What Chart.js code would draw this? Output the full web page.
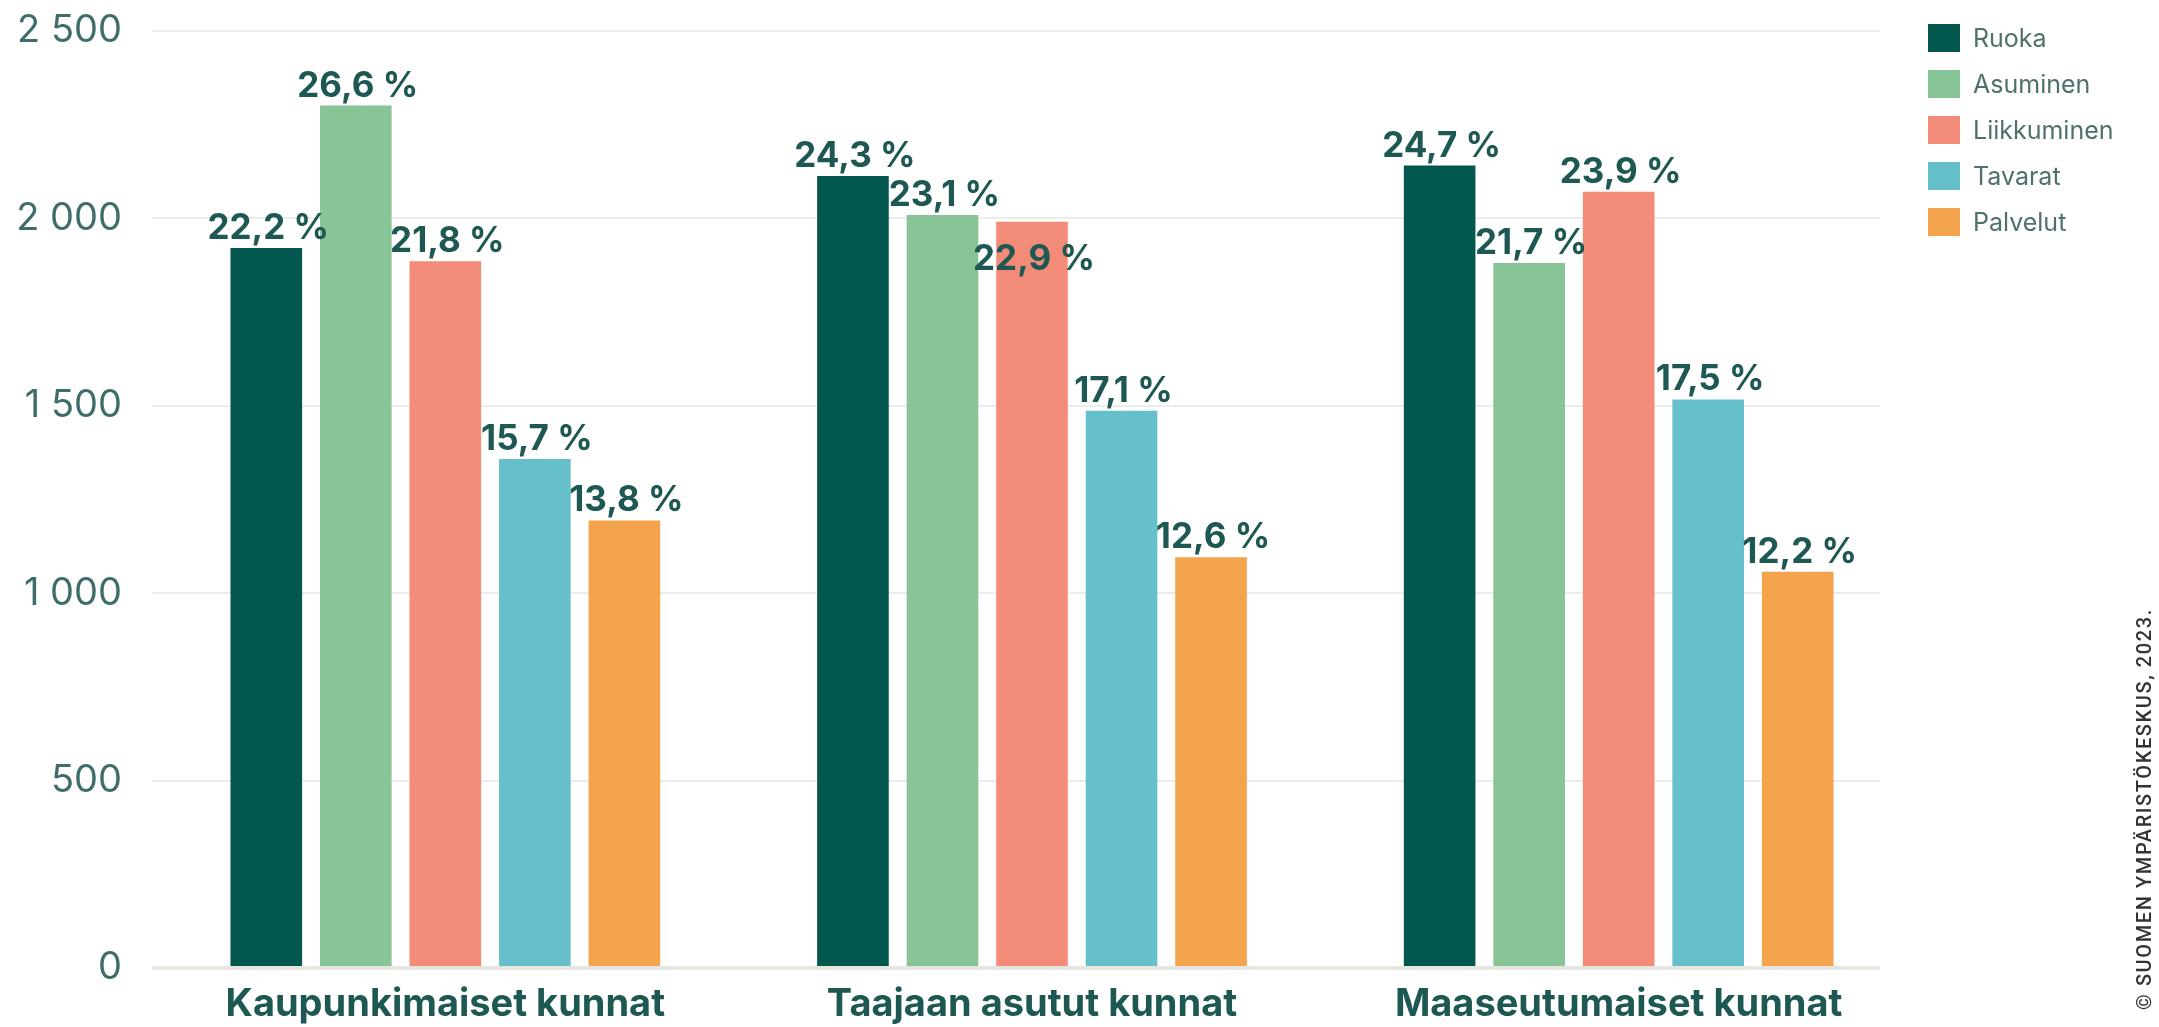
<!DOCTYPE html>
<html lang="fi">
<head>
<meta charset="utf-8">
<title>Hiilijalanjälki kuntatyypeittäin</title>
<script src="https://cdn.jsdelivr.net/npm/chart.js@4.4.0/dist/chart.umd.min.js"></script>
<style>
    html, body { margin: 0; padding: 0; background: #ffffff; }
    #wrap { position: relative; width: 2159px; height: 1027px; }
</style>
</head>
<body>
<div id="wrap"><canvas id="kulutus"></canvas></div>
<script>
// Kuntatyypit (x-akseli)
const categories = ['Kaupunkimaiset kunnat', 'Taajaan asutut kunnat', 'Maaseutumaiset kunnat'];

// Sarjat: arvot luettu kuvasta
const ruoka = [1921, 2113, 2141];
const asuminen = [2301, 2009, 1881];
const liikkuminen = [1886, 1991, 2071];
const tavarat = [1358, 1487, 1517];
const palvelut = [1194, 1096, 1057];

// Prosenttiosuudet pylväiden päällä
const ruokaPct = ['22,2 %', '24,3 %', '24,7 %'];
const asuminenPct = ['26,6 %', '23,1 %', '21,7 %'];
const liikkuminenPct = ['21,8 %', '22,9 %', '23,9 %'];
const tavaratPct = ['15,7 %', '17,1 %', '17,5 %'];
const palvelutPct = ['13,8 %', '12,6 %', '12,2 %'];

// Y-akselin tikit
const yTicks = [0, 500, 1000, 1500, 2000, 2500];
const yTickLabels = ['0', '500', '1 000', '1 500', '2 000', '2 500'];

const copyrightText = '© SUOMEN YMPÄRISTÖKESKUS, 2023.';

const textColor = '#1d5852';
const fontFamily = 'Inter, "Open Sans", sans-serif';

// Apuviivat loppuvat hieman ennen kaavioalueen oikeaa reunaa
const gridClipPlugin = {
    id: 'gridClip',
    beforeDraw(chart) {
        const ctx = chart.ctx;
        ctx.save();
        ctx.beginPath();
        ctx.rect(0, 0, chart.chartArea.right - 32, chart.height);
        ctx.clip();
    },
    beforeDatasetsDraw(chart) {
        chart.ctx.restore();
    }
};

// Prosenttitekstit pylväiden yläpuolelle (väistää päällekkäisyydet)
const pctLabelPlugin = {
    id: 'pctLabels',
    afterDatasetsDraw(chart) {
        const ctx = chart.ctx;
        ctx.save();
        ctx.font = 'bold 35px ' + fontFamily;
        ctx.fillStyle = textColor;
        ctx.textAlign = 'center';
        const placed = categories.map(() => []);
        chart.data.datasets.forEach((ds, di) => {
            const meta = chart.getDatasetMeta(di);
            meta.data.forEach((bar, i) => {
                const text = ds.pct[i];
                const w = ctx.measureText(text).width;
                const h = 28;
                let bottom = bar.y - 9;
                let rect = { l: bar.x - w / 2, r: bar.x + w / 2, t: bottom - h, b: bottom };
                const hit = placed[i].some(p => rect.l < p.r && rect.r > p.l && rect.t < p.b && rect.b > p.t);
                if (hit) {
                    // Siirretään teksti pylvään sisälle
                    bottom = bar.y + 20 + h;
                    rect = { l: rect.l, r: rect.r, t: bottom - h, b: bottom };
                }
                placed[i].push(rect);
                ctx.textBaseline = 'alphabetic';
                ctx.fillText(text, bar.x + 2, bottom);
            });
        });
        ctx.restore();
    }
};

// Selite oikeaan yläkulmaan ja tekijänoikeusteksti pystyyn
const legendPlugin = {
    id: 'sideLegend',
    afterDraw(chart) {
        const ctx = chart.ctx;
        ctx.save();
        ctx.font = '25px ' + fontFamily;
        ctx.textBaseline = 'middle';
        ctx.textAlign = 'left';
        chart.data.datasets.forEach((ds, i) => {
            const y = 38 + i * 46;
            ctx.fillStyle = ds.backgroundColor;
            ctx.fillRect(1928, y - 14, 32, 28);
            ctx.fillStyle = '#4f716d';
            ctx.fillText(ds.label, 1973, y + 1);
        });

        ctx.translate(2146, 1010);
        ctx.rotate(-Math.PI / 2);
        ctx.font = '500 20px Roboto, sans-serif';
        ctx.letterSpacing = '1.6px';
        ctx.fillStyle = '#333333';
        ctx.textBaseline = 'middle';
        ctx.fillText(copyrightText, 0, 0);
        ctx.restore();
    }
};

const ctx = document.getElementById('kulutus').getContext('2d');

new Chart(ctx, {
    type: 'bar',
    data: {
        labels: categories,
        datasets: [
            {label: 'Ruoka', data: ruoka, pct: ruokaPct, backgroundColor: '#02574f'},
            {label: 'Asuminen', data: asuminen, pct: asuminenPct, backgroundColor: '#87c596'},
            {label: 'Liikkuminen', data: liikkuminen, pct: liikkuminenPct, backgroundColor: '#f28c78'},
            {label: 'Tavarat', data: tavarat, pct: tavaratPct, backgroundColor: '#65c0cb'},
            {label: 'Palvelut', data: palvelut, pct: palvelutPct, backgroundColor: '#f3a44c'}
        ]
    },
    options: {
        responsive: true,
        maintainAspectRatio: false,
        animation: false,
        devicePixelRatio: 1,
        layout: {
            padding: {top: 31, right: 247, bottom: 0, left: 0}
        },
        datasets: {
            bar: {
                barPercentage: 0.8,
                categoryPercentage: 0.763
            }
        },
        scales: {
            x: {
                afterFit: function(scale) {
                    scale.height = 59;
                },
                grid: {display: false, drawTicks: false},
                border: {display: false},
                ticks: {
                    color: textColor,
                    padding: 14,
                    font: {family: fontFamily, size: 38, weight: 'bold'}
                }
            },
            y: {
                min: 0,
                max: 2500,
                afterFit: function(scale) {
                    scale.width = 152;
                    scale.paddingTop = 0;
                    scale.paddingBottom = 0;
                },
                afterBuildTicks: function(scale) {
                    scale.ticks = yTicks.map(v => ({value: v}));
                },
                grid: {
                    color: ctx => ctx.tick && ctx.tick.value === 0 ? '#e6e6e1' : '#ececE8',
                    lineWidth: ctx => ctx.tick && ctx.tick.value === 0 ? 4 : 2,
                    drawTicks: false
                },
                border: {display: false},
                ticks: {
                    color: '#3f6e6a',
                    padding: 30,
                    font: {family: fontFamily, size: 38, weight: 'normal'},
                    callback: function(value) {
                        const i = yTicks.indexOf(value);
                        return i >= 0 ? yTickLabels[i] : '';
                    }
                }
            }
        },
        plugins: {
            legend: {display: false},
            tooltip: {enabled: false}
        }
    },
    plugins: [gridClipPlugin, pctLabelPlugin, legendPlugin]
});
</script>
</body>
</html>
